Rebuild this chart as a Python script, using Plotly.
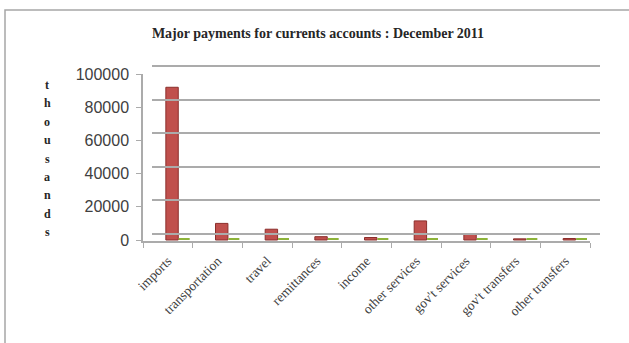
import plotly.graph_objects as go

categories = ["imports", "transportation", "travel", "remittances", "income",
              "other services", "gov't services", "gov't transfers", "other transfers"]
payments = [92000, 10000, 6500, 2000, 1500, 11500, 3800, 700, 900]
second_series = [900, 900, 900, 900, 900, 900, 900, 900, 900]
y_ticks = [0, 20000, 40000, 60000, 80000, 100000]
y_tick_text = ["0", "20000", "40000", "60000", "80000", "100000"]

W, H = 629, 343
L, R, T, B = 143, 29, 60, 102
pw, ph = W - L - R, H - T - B
bottom_px = H - B

def ypaper(px):
    return (bottom_px - px) / ph

def xpaper(px):
    return (px - L) / pw

fig = go.Figure()
fig.add_trace(go.Bar(x=categories, y=payments, offset=-0.04, width=0.25,
                     marker=dict(color="#C0504D", line=dict(color="#8C2F2C", width=1)),
                     showlegend=False))
fig.add_trace(go.Bar(x=categories, y=second_series, offset=0.22, width=0.22,
                     marker=dict(color="#8DB33A", line=dict(width=0)),
                     showlegend=False))
# invisible trace to create back-wall gridline subplot
fig.add_trace(go.Scatter(x=[0, 1], y=[0, 0], xaxis="x2", yaxis="y2", mode="lines",
                         line=dict(width=0), hoverinfo="skip", showlegend=False))

grid_col = "#ABABAB"
fig.update_layout(
    width=W, height=H,
    margin=dict(l=L, r=R, t=T, b=B),
    paper_bgcolor="white", plot_bgcolor="rgba(0,0,0,0)",
    barmode="overlay",
    title=dict(text="<b>Major payments for currents accounts : December 2011</b>",
               x=318 / W, xanchor="center", y=1 - 33 / H, yanchor="middle",
               font=dict(family="Liberation Serif", size=14, color="#262626")),
    xaxis=dict(domain=[0, xpaper(590)], type="category", tickson="boundaries",
               ticks="outside", ticklen=5, tickcolor=grid_col,
               showline=True, linecolor=grid_col, linewidth=1.5, showgrid=False,
               tickangle=-45, ticklabelstandoff=5,
               tickfont=dict(family="Liberation Serif", size=13.5, color="#404040")),
    yaxis=dict(domain=[0, ypaper(74)], range=[-600, 100000], tickvals=y_ticks,
               ticktext=y_tick_text, ticklabelstandoff=4,
               ticks="outside", ticklen=5, tickcolor=grid_col,
               showline=True, linecolor=grid_col, linewidth=1.5, showgrid=False,
               zeroline=False,
               tickfont=dict(family="Liberation Sans", size=16, color="#404040")),
    xaxis2=dict(domain=[xpaper(152), 1], range=[0, 1], anchor="y2", visible=False,
                showgrid=False),
    yaxis2=dict(domain=[0, 1], range=[-4167, 103571], anchor="x2",
                tickvals=y_ticks, showticklabels=False, showgrid=True,
                gridcolor=grid_col, gridwidth=2, zeroline=False, showline=False),
)

# letters of the vertical axis title
word = "thousands"
for i, ch in enumerate(word):
    fig.add_annotation(text="<b>%s</b>" % ch, xref="paper", yref="paper",
                       x=xpaper(47), y=ypaper(85 + i * 18.4), showarrow=False,
                       xanchor="center", yanchor="middle",
                       font=dict(family="Liberation Serif", size=12, color="#262626"))

# outer frame
fig.add_shape(type="rect", xref="paper", yref="paper",
              x0=xpaper(5), x1=xpaper(W + 10), y0=ypaper(H + 10), y1=ypaper(10),
              line=dict(color="#A6A6A6", width=1.5), layer="below")

fig.write_html("out.html")
